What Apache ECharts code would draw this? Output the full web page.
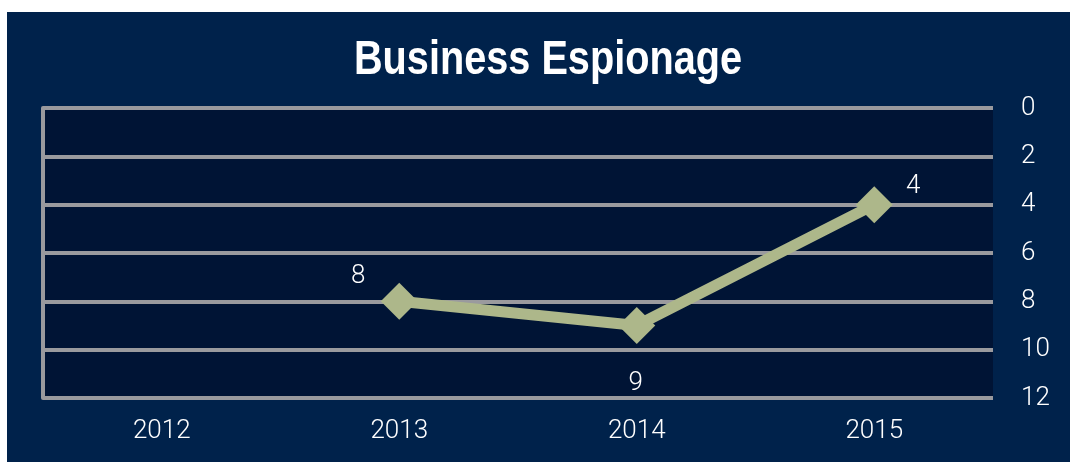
<!DOCTYPE html>
<html>
<head>
<meta charset="utf-8">
<script src="https://cdn.jsdelivr.net/npm/echarts@6/dist/echarts.min.js"></script>
<style>
  html, body { margin: 0; padding: 0; background: #ffffff; }
  #chart { position: absolute; left: 7px; top: 12px; width: 1063px; height: 450px; }
</style>
</head>
<body>
<div id="chart"></div>
<script>
// Incidents by year (2012 has no reading)
const years = ['2012', '2013', '2014', '2015'];
const incidents = [null, 8, 9, 4];
// Where each value label sits relative to its marker
const labelOffsets = [null, [-41, -25], [-1, 58], [39, -18]];
const yTicks = [0, 2, 4, 6, 8, 10, 12];
const chartTitle = 'Business Espionage';

const GRID_GRAY = '#9a9a9e';
const LINE_GREEN = '#adb78a';

const chart = echarts.init(document.getElementById('chart'), null, { renderer: 'canvas' });

const seriesData = incidents.map((v, i) => {
  if (v === null) return null;
  return {
    value: v,
    label: { offset: labelOffsets[i] }
  };
});

chart.setOption({
  backgroundColor: '#00224b',
  animation: false,
  // Condensed bold heading: a sans bold face squeezed horizontally
  graphic: [{
    type: 'text',
    x: 541,
    y: 48,
    scaleX: 0.81,
    style: {
      text: chartTitle,
      fill: '#ffffff',
      font: 'bold 49px "Liberation Sans", Arial, sans-serif',
      textAlign: 'center',
      textVerticalAlign: 'middle'
    }
  }],
  grid: {
    left: 36, right: 77, top: 96, bottom: 64,
    show: true,
    backgroundColor: '#001435',
    borderWidth: 0
  },
  xAxis: {
    type: 'category',
    data: years,
    boundaryGap: true,
    axisLine: { show: false },
    axisTick: { show: false },
    axisLabel: {
      color: '#ffffff',
      fontFamily: 'Roboto',
      fontWeight: 300,
      fontSize: 26,
      margin: 20
    }
  },
  yAxis: [
    {
      type: 'value',
      position: 'right',
      inverse: true,
      min: 0, max: 12, interval: 2,
      axisLine: { show: false },
      axisTick: { show: false },
      axisLabel: {
        color: '#ffffff',
        fontFamily: 'Roboto',
        fontWeight: 300,
        fontSize: 26,
        margin: 28,
        padding: [6, 0, 0, 0],
        formatter: v => yTicks.includes(v) ? String(v) : ''
      },
      splitLine: { show: true, lineStyle: { color: GRID_GRAY, width: 4 } }
    },
    {
      type: 'value',
      position: 'left',
      inverse: true,
      min: 0, max: 12, interval: 2,
      axisLine: { show: true, lineStyle: { color: GRID_GRAY, width: 4 } },
      axisTick: { show: false },
      axisLabel: { show: false },
      splitLine: { show: false }
    }
  ],
  series: [{
    type: 'line',
    data: seriesData,
    yAxisIndex: 0,
    connectNulls: false,
    lineStyle: { color: LINE_GREEN, width: 11 },
    itemStyle: { color: LINE_GREEN },
    symbol: 'diamond',
    symbolSize: 37,
    label: {
      show: true,
      position: 'inside',
      color: '#ffffff',
      fontFamily: 'Roboto',
      fontWeight: 300,
      fontSize: 26
    },
    z: 5
  }]
});
</script>
</body>
</html>
